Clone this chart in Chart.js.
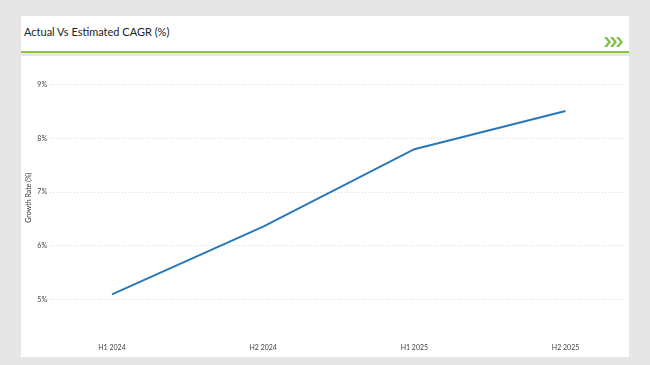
<!DOCTYPE html>
<html>
<head>
<meta charset="utf-8">
<script src="https://cdn.jsdelivr.net/npm/chart.js@4.4.1/dist/chart.umd.min.js"></script>
<style>
  html, body { margin: 0; padding: 0; }
  body { width: 650px; height: 365px; background: #e6e6e6; position: relative; overflow: hidden; font-family: Lato, "Open Sans", sans-serif; }
  #head { position: absolute; left: 21px; top: 16px; width: 608px; height: 35px; background: #fff; border-bottom: 2px solid #8cc63f; }
  #head .title { position: absolute; left: 3px; top: 9px; font-size: 11px; color: #222; }
  #head svg { position: absolute; left: 583px; top: 21px; }
  #panel { position: absolute; left: 21px; top: 56px; width: 608px; height: 301px; background: #fff; }
</style>
</head>
<body>
<div id="head">
  <div class="title">Actual Vs Estimated CAGR (%)</div>
  <svg width="20" height="10" viewBox="0 0 20 10">
    <polygon points="0,0 3,0 7,5 3,10 0,10 4,5" fill="#7dc242"/>
    <polygon points="6,0 9,0 13,5 9,10 6,10 10,5" fill="#7dc242"/>
    <polygon points="12,0 15,0 19,5 15,10 12,10 16,5" fill="#7dc242"/>
  </svg>
</div>
<div id="panel"><canvas id="cagr" width="608" height="301"></canvas></div>
<script>
const periods = ['H1 2024', 'H2 2024', 'H1 2025', 'H2 2025'];
const growthRate = [5.1, 6.36, 7.8, 8.51];
const yTicks = [5, 6, 7, 8, 9];

const ctx = document.getElementById('cagr').getContext('2d');
new Chart(ctx, {
    type: 'line',
    data: {
        datasets: [{
            label: 'Growth Rate (%)',
            data: growthRate.map((v, i) => ({ x: i, y: v })),
            borderColor: '#2a78b8',
            borderWidth: 2,
            pointRadius: 0,
            tension: 0,
            fill: false
        }]
    },
    options: {
        responsive: false,
        animation: false,
        layout: { padding: { top: 6, right: 3, left: 0, bottom: 0 } },
        plugins: { legend: { display: false }, tooltip: { enabled: false } },
        scales: {
            x: {
                type: 'linear',
                min: -0.41,
                max: 3.40,
                grid: { display: false, drawTicks: false },
                border: { display: false },
                afterBuildTicks: s => { s.ticks = periods.map((p, i) => ({ value: i })); },
                afterFit: s => { s.height = 25; },
                ticks: {
                    padding: 12,
                    maxRotation: 0,
                    color: '#444',
                    font: { family: 'Lato', size: 7 },
                    callback: v => periods[v]
                }
            },
            y: {
                min: 4.4,
                max: 9.4,
                afterBuildTicks: s => { s.ticks = yTicks.map(v => ({ value: v })); },
                afterFit: s => { s.width = 29; },
                grid: { color: '#d9d9d9', lineWidth: 1, drawTicks: false },
                border: { display: false, dash: [1, 2] },
                ticks: {
                    padding: 3,
                    color: '#444',
                    font: { family: 'Lato', size: 7 },
                    callback: v => v + '%'
                },
                title: {
                    display: true,
                    text: 'Growth Rate (%)',
                    color: '#333',
                    font: { family: 'Lato', size: 7 },
                    padding: { top: 4, bottom: 0 }
                }
            }
        }
    }
});
</script>
</body>
</html>
